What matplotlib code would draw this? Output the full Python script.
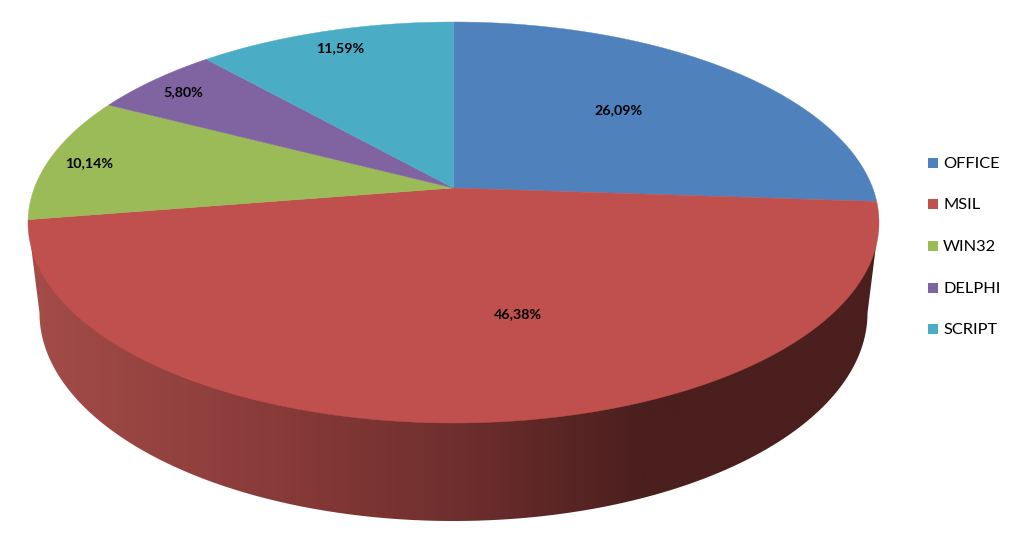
import numpy as np
import matplotlib
matplotlib.use("Agg")
import matplotlib.pyplot as plt
from matplotlib.colors import LinearSegmentedColormap
from matplotlib.patches import Polygon, Rectangle

categories = ["OFFICE", "MSIL", "WIN32", "DELPHI", "SCRIPT"]
values = [26.09, 46.38, 10.14, 5.80, 11.59]
colors = ["#4F81BD", "#C0504D", "#9BBB59", "#8064A2", "#4BACC6"]

# pixel layout of the tilted pie
apex_x, apex_y = 453.5, 188
top_back, top_front = 166, 235
rim_cy, rim_rx, rim_ry = 313, 414, 208

label_xy = [(619, 110), (518, 314), (89, 163), (183, 92), (340, 48)]
legend_y = [163, 204, 246, 288, 329]

k = (top_front - top_back) / (top_front + top_back)
B = top_back * (1 + k)
A = 425.5 * np.sqrt(1 - k ** 2)


def project(theta):
    # clockwise from the top, circle pushed through the perspective
    u, v = np.sin(theta), np.cos(theta)
    d = 1 + k * v
    return apex_x + A * u / d, apex_y - B * v / d


fig = plt.figure(figsize=(10.21, 5.38), dpi=100)
ax = fig.add_axes([0, 0, 1, 1])

# side of the pie, horizontal shading only
shade = LinearSegmentedColormap.from_list(
    "shade",
    [(0, "#A44C49"), (0.32, "#853937"), (0.5, "#6F2F2E"),
     (0.72, "#4B1F1E"), (1, "#4A1F1E")],
)
grad = np.linspace(0, 1, 512).reshape(1, -1)
img = ax.imshow(grad, cmap=shade, extent=(28, 879, 538, 0), aspect="auto", zorder=1)

t = np.linspace(-np.pi / 2, np.pi / 2, 300)
rim_x = apex_x + rim_rx * np.sin(t)
rim_y = rim_cy + rim_ry * np.cos(t)
side_pts = [(apex_x - 425.5, 222)] + list(zip(rim_x, rim_y)) + [(apex_x + 425.5, 222)]
side = Polygon(side_pts, closed=True, transform=ax.transData, fc="none", ec="none")
ax.add_patch(side)
img.set_clip_path(side)

# top face
start = 0.0
total = sum(values)
for val, col in zip(values, colors):
    end = start + val / total * 2 * np.pi
    th = np.linspace(start, end, 300)
    x, y = project(th)
    pts = [(apex_x, apex_y)] + list(zip(x, y))
    ax.add_patch(Polygon(pts, closed=True, fc=col, ec=col, lw=0.3, zorder=2))
    start = end

for val, (lx, ly) in zip(values, label_xy):
    txt = f"{val:.2f}%".replace(".", ",")
    ax.text(lx, ly, txt, ha="center", va="center", fontsize=10.3,
            fontweight="bold", family="Lato", color="black", zorder=3)

# legend
for name, col, ly in zip(categories, colors, legend_y):
    ax.add_patch(Rectangle((928, ly - 5), 10, 10, fc=col, ec="none", zorder=3))
    ax.text(943, ly + 1, name, ha="left", va="center", fontsize=11.8,
            family="Lato", color="black", zorder=3)

ax.set_xlim(0, 1021)
ax.set_ylim(538, 0)
ax.axis("off")
fig.savefig("out.png", dpi=100, facecolor="white")
